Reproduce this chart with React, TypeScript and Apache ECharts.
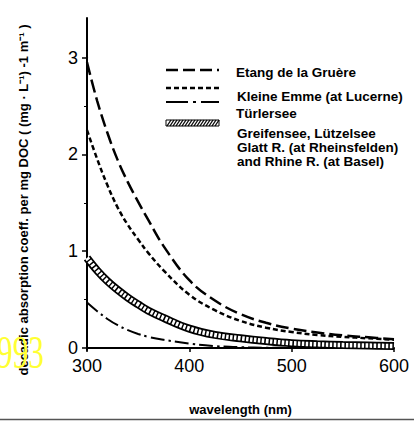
import React, { useEffect, useRef } from "react";
import * as echarts from "echarts";

const wavelengths = [300, 310, 320, 330, 340, 350, 360, 375, 400, 425, 450, 475, 500, 525, 550, 575, 600];
const etangValues = [2.95, 2.55, 2.22, 1.94, 1.71, 1.51, 1.32, 1.05, 0.7, 0.49, 0.35, 0.26, 0.2, 0.16, 0.13, 0.11, 0.09];
const kleineValues = [2.25, 1.95, 1.68, 1.45, 1.27, 1.12, 0.98, 0.8, 0.55, 0.39, 0.28, 0.21, 0.165, 0.135, 0.115, 0.1, 0.085];
const greifenseeValues = [0.93, 0.8, 0.69, 0.6, 0.52, 0.45, 0.385, 0.31, 0.2, 0.135, 0.1, 0.072, 0.05, 0.038, 0.03, 0.025, 0.02];
const turlerseeWavelengths = [300, 310, 320, 330, 340, 350, 360, 375, 400, 425, 450, 475, 500];
const turlerseeValues = [0.47, 0.38, 0.3, 0.235, 0.185, 0.145, 0.115, 0.085, 0.045, 0.02, 0.008, 0.003, 0.0];

const legendLabels = [
  "Etang de la Gruère",
  "Kleine Emme (at Lucerne)",
  "Türlersee",
  "Greifensee, Lützelsee\nGlatt R. (at Rheinsfelden)\nand Rhine R. (at Basel)",
];
const yAxisTitle = "decadic absorption coeff. per mg DOC ( (mg · L⁻¹) -1 m⁻¹ )";
const xAxisTitle = "wavelength (nm)";
const cornerMark = "993";

const zip = (xs: number[], ys: number[]) => xs.map((x, i) => [x, ys[i]]);

const FONT = '"Liberation Sans", Arial, Helvetica, sans-serif';

export default function App() {
  const ref = useRef<HTMLDivElement>(null);
  useEffect(() => {
    if (!ref.current) return;
    const chart = echarts.init(ref.current, undefined, { renderer: "svg" });

    const hatch: any[] = [];
    for (let i = 0; i < 17; i++) {
      hatch.push({
        type: "line",
        shape: { x1: 167 + i * 3, y1: 126, x2: 171 + i * 3, y2: 120 },
        style: { stroke: "#000", lineWidth: 1.3 },
      });
    }

    const axisLineStyle = { color: "#000", width: 2 };

    const option: any = {
      animation: false,
      backgroundColor: "#fff",
      grid: [
        { left: 87, right: 20, top: 57.5, bottom: 71 },
        { left: 87, right: 20, top: 18, bottom: 71 },
      ],
      xAxis: [
        {
          type: "value",
          gridIndex: 0,
          min: 300,
          max: 600,
          interval: 100,
          axisLine: { show: true, onZero: false, lineStyle: axisLineStyle },
          axisTick: { show: true, length: 4, lineStyle: { color: "#000", width: 1.5 } },
          axisLabel: { color: "#000", fontSize: 18, fontFamily: FONT, margin: 9 },
          splitLine: { show: false },
          name: xAxisTitle,
          nameLocation: "middle",
          nameGap: 55,
          nameTextStyle: { fontSize: 13, fontWeight: "bold", color: "#000", fontFamily: FONT },
        },
        { type: "value", gridIndex: 1, min: 300, max: 600, show: false },
      ],
      yAxis: [
        {
          type: "value",
          gridIndex: 0,
          min: 0,
          max: 3,
          interval: 1,
          axisLine: { show: true, onZero: false, lineStyle: axisLineStyle },
          axisTick: { show: true, length: 5, lineStyle: { color: "#000", width: 1.5 } },
          minorTick: { show: true, splitNumber: 2, length: 3, lineStyle: { color: "#000", width: 1 } },
          axisLabel: { color: "#000", fontSize: 18, fontFamily: FONT, margin: 9 },
          splitLine: { show: false },
          minorSplitLine: { show: false },
        },
        {
          type: "value",
          gridIndex: 1,
          min: 0,
          max: 1,
          axisLine: { show: true, onZero: false, lineStyle: axisLineStyle },
          axisTick: { show: false },
          axisLabel: { show: false },
          splitLine: { show: false },
        },
      ],
      series: [
        {
          name: legendLabels[3],
          type: "line",
          data: zip(wavelengths, greifenseeValues),
          smooth: 0.4,
          symbol: "none",
          lineStyle: { color: "#000", width: 8 },
          z: 2,
        },
        {
          name: legendLabels[3] + " inner",
          type: "line",
          data: zip(wavelengths, greifenseeValues),
          smooth: 0.4,
          symbol: "none",
          lineStyle: { color: "#fff", width: 4.5, type: [2.5, 1.5] },
          z: 3,
        },
        {
          name: legendLabels[0],
          type: "line",
          data: zip(wavelengths, etangValues),
          smooth: 0.4,
          symbol: "none",
          lineStyle: { color: "#000", width: 2.5, type: [13, 5] },
          z: 4,
        },
        {
          name: legendLabels[1],
          type: "line",
          data: zip(wavelengths, kleineValues),
          smooth: 0.4,
          symbol: "none",
          lineStyle: { color: "#000", width: 2.5, type: [5, 3] },
          z: 4,
        },
        {
          name: legendLabels[2],
          type: "line",
          data: zip(turlerseeWavelengths, turlerseeValues),
          smooth: 0.4,
          symbol: "none",
          lineStyle: { color: "#000", width: 2, type: [14, 4, 2.5, 4] },
          z: 4,
        },
      ],
      graphic: [
        // legend keys
        { type: "line", shape: { x1: 166, y1: 70, x2: 219, y2: 70 }, style: { stroke: "#000", lineWidth: 2.5, lineDash: [12, 5] } },
        { type: "line", shape: { x1: 166, y1: 88, x2: 219, y2: 88 }, style: { stroke: "#000", lineWidth: 2.5, lineDash: [5, 3] } },
        { type: "line", shape: { x1: 166, y1: 102, x2: 219, y2: 102 }, style: { stroke: "#000", lineWidth: 2.2, lineDash: [22, 5, 3, 5] } },
        { type: "rect", shape: { x: 166, y: 120, width: 53, height: 6 }, style: { fill: "#fff", stroke: "#000", lineWidth: 1 } },
        ...hatch,
        // legend texts
        { type: "text", x: 236, y: 72, style: { text: legendLabels[0], font: `bold 13.5px ${FONT}`, fill: "#000", verticalAlign: "middle" } },
        { type: "text", x: 237, y: 96, style: { text: legendLabels[1], font: `bold 13.5px ${FONT}`, fill: "#000", verticalAlign: "middle" } },
        { type: "text", x: 236, y: 113, style: { text: legendLabels[2], font: `bold 13.5px ${FONT}`, fill: "#000", verticalAlign: "middle" } },
        { type: "text", x: 237, y: 126, style: { text: legendLabels[3], font: `bold 13.5px ${FONT}`, fill: "#000", verticalAlign: "top", lineHeight: 14 } },
        // y axis title
        {
          type: "text",
          x: 23,
          y: 200,
          rotation: Math.PI / 2,
          style: { text: yAxisTitle, font: `bold 13px ${FONT}`, fill: "#000", align: "center", verticalAlign: "middle" },
        },
        // yellow mark
        {
          type: "text",
          x: -3,
          y: 353,
          scaleX: 0.68,
          z: 100,
          style: { text: cornerMark, font: '46px "Liberation Serif", serif', fill: "#ffff33", align: "left", verticalAlign: "middle" },
        },
        // bottom rule
        { type: "line", shape: { x1: 0, y1: 419.5, x2: 414, y2: 419.5 }, style: { stroke: "#555", lineWidth: 1.5 } },
      ],
    };
    chart.setOption(option);
    return () => chart.dispose();
  }, []);
  return <div ref={ref} style={{ position: "fixed", left: 0, top: 0, width: 414, height: 421 }} />;
}
